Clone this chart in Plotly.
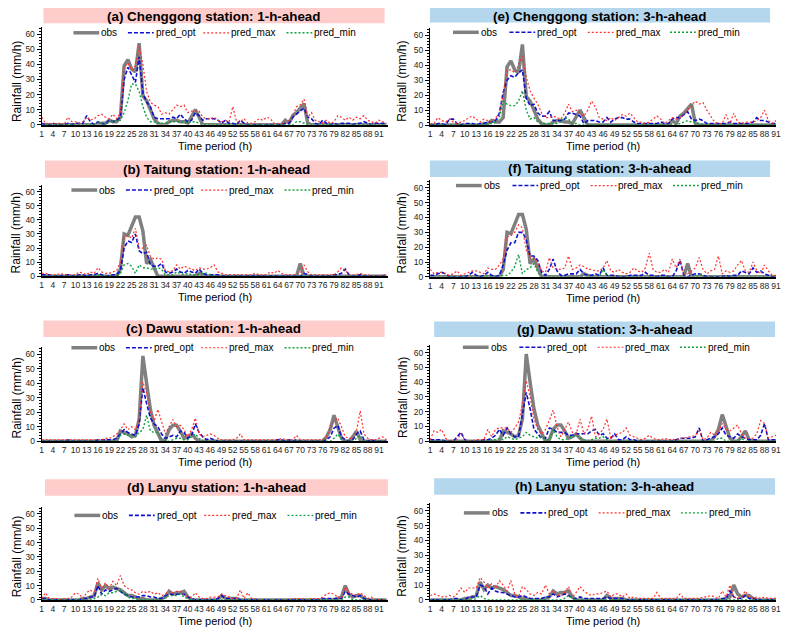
import plotly.graph_objects as go

# ---------------- data ----------------
TICK_LABELS = list(range(1, 92, 3))

# Chenggong
OBS_CHENGGONG = [0,0,0,0,0,0,0,0,0,0, 0,0,0,0,0,0,1,1,3,2, 2,5,39,43,37,35,54,19,16,10,
                 4,1,0,0,2,3,3,2,2,1, 6,10,5,0,0,0,0,0,0,0, 0,0,0,0,0,0,0,0,0,0,
                 0,0,0,0,0,3,1,6,8,11, 14,1,0,0,0,0,0,0,0,0, 0,0,0,0,0,0,0,0,0,0, 0,0,0]
OPT_A = [1,0,0,1,0,0,0,1,0,1, 1,1,6,2,0,2,1,0,3,2, 3,5,30,38,33,28,45,21,15,12,
         5,4,4,4,4,5,4,7,4,2, 3,8,6,3,4,4,4,3,1,3, 1,1,0,3,1,0,0,0,0,0,
         0,0,0,0,0,1,1,5,7,9, 11,5,4,1,0,3,1,0,1,0, 1,1,1,0,1,1,2,1,0,1, 1,1,1]
MAX_A = [5,1,1,0,1,1,0,5,2,2, 1,2,5,3,4,6,7,5,4,7, 4,8,38,41,36,39,52,40,22,15,
         13,12,7,8,7,10,13,12,13,8, 9,9,9,5,4,4,5,3,2,3, 2,12,2,2,4,1,1,2,4,3,
         5,4,1,1,1,1,3,6,12,13, 17,5,8,3,2,1,3,1,2,6, 5,3,5,3,5,4,6,3,2,1, 3,2,1]
MIN_A = [0,0,0,0,0,0,0,0,0,0, 0,0,0,0,0,2,1,0,2,2, 3,3,8,16,27,27,22,12,5,2,
         2,1,1,1,2,2,2,2,2,1, 2,2,1,0,0,0,0,0,0,0, 0,0,0,0,0,0,0,0,0,0,
         0,0,0,0,0,0,0,0,2,2, 1,0,0,0,0,0,0,0,0,0, 0,0,0,0,0,0,0,0,0,0, 0,0,0]
OPT_E = [0,0,1,1,0,4,4,1,0,1, 1,1,0,1,1,2,2,3,8,22, 30,33,32,35,37,18,13,14,8,6,
         6,9,3,3,3,4,8,8,7,6, 1,3,3,3,2,2,5,2,4,5, 5,4,4,2,1,1,1,1,1,1,
         2,1,1,4,5,5,7,9,4,3, 4,3,1,1,1,1,1,1,2,1, 1,1,1,1,2,5,3,3,2,1, 1]
MAX_E = [1,1,5,3,2,4,2,1,2,3, 5,6,4,2,4,3,2,5,7,20, 37,37,35,40,46,32,23,18,14,8,
         5,5,6,5,4,8,14,9,10,8, 6,10,16,12,5,4,3,5,3,5, 7,6,8,5,2,2,1,2,4,6,
         4,1,3,5,4,5,7,10,13,16, 14,15,10,6,2,1,1,7,1,8, 2,1,2,2,2,3,5,10,3,1, 3]
MIN_E = [0,0,0,0,0,0,0,0,0,0, 0,0,0,0,0,1,1,2,5,16, 14,13,13,16,23,10,4,5,2,1,
         1,1,1,1,2,5,4,1,1,0, 0,0,0,0,0,0,0,0,0,0, 0,0,0,0,0,0,0,0,0,0,
         0,0,0,0,0,1,2,3,2,2, 1,0,0,0,0,0,0,0,0,0, 0,0,0,0,0,0,0,0,0,0, 0]

# Taitung
OBS_TAITUNG = [0,0,0,0,0,0,0,0,0,0, 0,0,0,0,0,0,0,0,0,0, 0,5,30,29,35,42,42,32,9,12,
               6,0,0,0,0,0,0,0,0,0, 0,0,2,1,0,0,0,0,0,0, 0,0,0,0,0,0,0,0,0,0,
               0,0,0,0,0,0,0,0,0,9, 0,0,0,0,0,0,0,0,0,0, 0,0,0,0,0,0,0,0,0,0, 0,0,0]
OPT_B = [1,1,1,0,0,0,1,1,0,0, 1,1,0,1,1,2,1,0,0,1, 1,4,20,25,24,30,18,16,17,8,
         7,7,9,3,2,3,5,3,2,4, 3,2,5,2,1,1,1,1,0,0, 0,0,0,0,0,0,0,1,0,0,
         0,0,0,0,0,0,0,0,0,0, 2,1,0,0,0,0,0,0,1,1, 2,5,1,0,0,1,0,0,0,0, 0,0,0]
MAX_B = [2,2,1,1,1,2,1,1,1,1, 3,2,1,3,2,6,3,2,2,3, 4,10,27,29,27,34,20,20,22,14,
         12,13,12,4,3,4,8,5,7,6, 5,4,6,5,5,6,8,3,2,1, 1,1,1,1,1,1,1,2,1,1,
         1,3,2,4,2,1,1,1,1,2, 8,3,1,1,1,1,1,1,1,3, 6,4,1,1,1,2,1,1,0,0, 0,1,1]
MIN_B = [0,0,0,0,0,0,0,0,0,0, 0,0,0,0,0,1,0,0,0,0, 0,2,8,9,7,2,8,6,6,5,
         5,6,5,1,1,1,3,2,1,2, 1,1,1,2,2,1,0,0,0,0, 0,0,0,0,0,0,0,0,0,0,
         0,0,0,0,0,0,0,0,0,0, 0,0,0,0,0,0,0,0,0,0, 0,0,0,0,0,0,0,0,0,0, 0,0,0]
OPT_F = [1,1,2,3,2,0,0,0,0,0, 1,3,1,0,1,3,1,0,1,8, 18,23,23,30,30,25,14,14,11,3,
         1,5,12,4,1,1,2,2,2,5, 2,1,1,2,1,6,1,1,1,0, 0,0,1,1,1,1,3,1,1,0,
         1,1,0,0,4,11,1,0,1,2, 2,1,0,0,0,0,0,1,0,1, 1,4,3,2,6,3,4,2,1,0, 0]
MAX_F = [5,2,3,3,2,1,2,4,1,2, 3,4,4,3,2,6,5,5,8,12, 27,28,30,35,33,18,13,12,10,4,
         3,13,6,5,5,6,14,5,6,8, 7,5,5,4,4,6,11,4,3,5, 3,2,3,6,4,3,6,16,5,3,
         3,5,3,12,6,12,2,2,4,6, 13,5,2,4,5,14,2,4,3,4, 8,11,4,3,10,4,2,8,4,1, 1]
MIN_F = [0,0,0,0,0,0,0,0,0,0, 0,0,0,0,0,1,0,0,0,1, 1,3,7,15,2,5,6,9,3,0,
         0,0,0,0,0,0,0,0,0,0, 0,0,0,0,0,5,1,0,0,0, 0,0,0,0,0,0,0,0,0,0,
         0,0,0,0,0,0,0,0,0,0, 2,0,0,0,0,0,0,0,0,0, 0,0,0,0,0,0,0,0,0,0, 0]

# Dawu
OBS_DAWU = [0,0,0,0,0,0,0,0,0,0, 0,0,0,0,0,0,0,0,0,0, 0,7,6,5,3,4,15,59,40,22,
            11,5,0,1,8,11,11,7,2,3, 5,2,0,0,0,0,0,0,0,0, 0,0,0,0,0,0,0,0,0,0,
            0,0,0,0,0,0,0,0,0,0, 0,0,0,0,0,0,3,8,18,10, 2,0,0,3,7,1,0,0,0,0, 0,0,0]
OPT_C = [0,0,0,0,0,0,0,1,0,0, 0,0,0,0,0,1,1,1,1,1, 2,5,8,6,5,4,12,37,26,16,
         12,10,5,2,3,4,3,7,6,2, 4,12,6,3,1,2,1,0,0,0, 0,0,0,0,0,0,0,0,0,0,
         0,0,0,1,1,0,1,0,1,0, 0,0,0,0,0,0,1,3,9,11, 3,1,0,1,5,7,1,0,1,0, 0,0,0]
MAX_C = [1,1,1,1,1,1,1,1,1,1, 1,1,1,1,1,1,1,2,2,3, 5,8,12,8,10,8,15,41,33,20,
         14,22,14,5,10,15,10,11,8,3, 8,16,5,3,4,5,4,2,1,1, 1,1,2,5,1,1,1,1,1,1,
         1,1,1,1,2,1,1,1,4,1, 1,1,1,1,1,1,3,10,14,16, 10,3,2,2,7,21,5,2,1,1, 2,3,1]
MIN_C = [0,0,0,0,0,0,0,0,0,0, 0,0,0,0,0,0,0,0,0,0, 1,4,5,4,4,3,6,8,18,7,
         6,6,2,0,0,1,2,2,1,1, 3,5,2,0,0,0,0,0,0,0, 0,0,0,0,0,0,0,0,0,0,
         0,0,0,0,0,0,0,0,0,0, 0,0,0,0,0,0,0,0,2,5, 1,0,0,0,2,4,0,0,0,0, 0,0,0]
OPT_G = [1,1,1,1,0,0,0,3,6,1, 0,0,0,0,1,1,2,4,8,4, 9,5,3,3,18,33,22,8,5,2,
         2,9,8,6,6,6,4,4,5,5, 5,5,7,8,4,5,2,2,5,1, 1,3,1,1,0,0,0,0,0,0,
         0,0,0,0,1,2,2,2,2,3, 9,0,1,2,3,5,9,4,3,2, 5,3,2,1,1,1,4,12,1,1, 1]
MAX_G = [1,7,6,8,2,0,0,1,5,1, 0,0,1,1,1,8,3,8,9,9, 9,6,9,13,25,41,30,15,8,5,
         8,14,21,10,3,8,13,6,5,15, 5,8,17,3,5,8,15,2,4,5, 6,9,4,3,2,1,2,4,2,1,
         1,2,1,1,1,2,2,3,3,4, 7,1,2,6,4,6,12,8,7,9, 11,5,2,2,2,5,14,12,2,3, 4]
MIN_G = [0,0,0,0,0,0,0,0,0,0, 0,0,0,0,0,0,1,1,2,1, 3,2,1,2,3,6,4,3,2,3,
         1,1,8,3,1,1,2,3,4,2, 1,0,1,2,2,3,1,0,0,0, 0,0,0,0,0,0,0,0,0,0,
         0,0,0,0,0,0,0,0,0,0, 0,0,0,0,0,2,2,0,0,0, 0,2,0,0,0,0,0,0,0,0, 0]

# Lanyu
OBS_LANYU = [1,1,0,0,0,0,0,0,0,0, 0,1,1,2,3,12,7,10,8,9, 8,7,5,3,3,2,1,1,0,0,
             0,0,1,2,6,4,5,5,6,2, 0,0,0,0,0,0,0,0,3,1, 1,1,1,0,0,0,0,0,0,0,
             0,0,0,0,0,0,0,0,0,0, 0,0,0,0,0,0,0,0,0,1, 2,10,4,2,3,3,1,0,0,0, 0,0,0]
OPT_D = [1,1,0,0,0,0,0,0,0,0, 0,1,1,2,2,10,4,7,6,7, 8,6,4,3,2,2,2,3,3,2,
         2,1,1,3,4,4,4,4,4,2, 1,0,0,0,0,0,0,1,3,1, 1,1,1,0,0,0,0,0,0,0,
         0,0,0,0,0,0,0,0,0,0, 0,0,0,0,0,1,1,1,1,1, 1,6,4,3,2,3,1,0,0,0, 0,0,0]
MAX_D = [1,5,1,1,1,0,1,1,2,5, 4,1,5,7,4,15,7,12,8,13, 10,17,10,8,7,5,4,6,5,6,
         4,5,3,4,6,5,6,6,3,2, 2,5,2,1,1,2,2,2,4,3, 2,1,1,7,1,5,1,1,0,0,
         0,0,0,0,0,0,0,1,1,1, 1,0,1,1,1,2,4,5,4,2, 1,9,5,4,3,5,3,1,2,0, 0,0,0]
MIN_D = [0,0,0,0,0,0,0,0,0,0, 0,0,0,0,1,2,4,3,5,5, 6,6,5,2,1,1,0,0,0,0,
         0,0,0,2,3,3,3,4,2,1, 0,0,0,0,0,0,0,0,0,0, 0,0,0,0,0,0,0,0,0,0,
         0,0,0,0,0,0,0,0,0,0, 0,0,0,0,0,0,0,0,0,0, 0,2,2,0,0,0,0,0,0,0, 0,0,0]
OPT_H = [0,0,0,0,0,0,1,1,0,0, 2,2,2,10,9,4,8,6,5,5, 4,3,2,2,3,2,1,1,1,1,
         2,2,4,2,3,4,3,1,1,2, 1,1,1,1,1,1,2,1,1,1, 1,0,0,0,0,0,0,0,0,0,
         0,0,0,0,0,0,0,0,0,0, 0,0,0,0,0,0,1,1,6,2, 1,1,3,1,1,0,0,0,0,0, 0]
MAX_H = [3,4,3,2,2,3,2,4,8,5, 8,8,8,15,12,8,11,8,13,10, 6,13,4,2,9,7,4,3,5,4,
         10,4,6,3,3,5,9,2,5,9, 6,4,3,4,4,5,6,2,4,4, 2,4,1,2,1,1,1,1,1,5,
         1,1,1,1,1,4,1,1,1,1, 1,2,2,3,2,1,6,2,10,2, 1,2,6,2,1,2,1,2,1,1, 1]
MIN_H = [0,0,0,0,0,0,0,0,0,0, 0,0,1,3,1,0,0,0,0,0, 0,0,0,0,0,0,0,0,0,0,
         0,0,0,0,0,1,3,1,0,0, 0,0,0,0,0,0,0,0,0,0, 0,0,0,0,0,0,0,0,0,0,
         0,0,0,0,0,0,0,0,0,0, 0,0,0,0,0,0,0,0,0,0, 0,0,0,0,0,0,0,0,0,0, 0]

SERIES_NAMES = ["obs", "pred_opt", "pred_max", "pred_min"]

# ---------------- layout helpers ----------------
# the page body keeps its default 8px margin, so the figure is sized to fit
# and all page-pixel positions are converted with that offset
OFF = 8
W, H = 778, 624
FONT = "Arial"


def px_x(v):
    return (v - OFF) / W


def px_y(v):
    return 1 - (v - OFF) / H


# panel geometry (page pixels): column, y of value 0, px span of 0..60, title bar box, legend start/y
panels = [
    dict(title="(a) Chenggong station: 1-h-ahead", obs=OBS_CHENGGONG, opt=OPT_A, mx=MAX_A, mn=MIN_A,
         col=0, y0=125.7, s=91.4, bar=(41.7, 386, 5, 23.3), legx=72, legy=33),
    dict(title="(b) Taitung station: 1-h-ahead", obs=OBS_TAITUNG, opt=OPT_B, mx=MAX_B, mn=MIN_B,
         col=0, y0=278.3, s=85.0, bar=(43.3, 389.3, 161.7, 179), legx=70, legy=191.5),
    dict(title="(c) Dawu station: 1-h-ahead", obs=OBS_DAWU, opt=OPT_C, mx=MAX_C, mn=MIN_C,
         col=0, y0=444.7, s=87.4, bar=(41.7, 386, 323, 339.7), legx=70, legy=350.5),
    dict(title="(d) Lanyu station: 1-h-ahead", obs=OBS_LANYU, opt=OPT_D, mx=MAX_D, mn=MIN_D,
         col=0, y0=604.7, s=86.7, bar=(43.3, 389.3, 483, 499.7), legx=73, legy=519.5),
    dict(title="(e) Chenggong station: 3-h-ahead", obs=OBS_CHENGGONG[2:], opt=OPT_E, mx=MAX_E, mn=MIN_E,
         col=1, y0=126.0, s=90.3, bar=(431.7, 775, 5, 22.7), legx=455, legy=32.5),
    dict(title="(f) Taitung station: 3-h-ahead", obs=OBS_TAITUNG[2:], opt=OPT_F, mx=MAX_F, mn=MIN_F,
         col=1, y0=279.0, s=89.7, bar=(431.7, 775, 161.7, 178.3), legx=458, legy=187),
    dict(title="(g) Dawu station: 3-h-ahead", obs=OBS_DAWU[2:], opt=OPT_G, mx=MAX_G, mn=MIN_G,
         col=1, y0=444.7, s=89.3, bar=(436, 780, 324, 339.7), legx=465, legy=350),
    dict(title="(h) Lanyu station: 3-h-ahead", obs=OBS_LANYU[2:], opt=OPT_H, mx=MAX_H, mn=MIN_H,
         col=1, y0=604.7, s=90.0, bar=(436, 780, 482, 498.7), legx=466, legy=517),
]

COLS = [dict(x0=40, x1=389, rng=[1, 93.3], bar_color="#FFCCCC", ytitle_x=15,
             leg_off=[0, 55, 131, 215], leg_len=26),
        dict(x0=432, x1=781, rng=[1, 91.0], bar_color="#B4D7EE", ytitle_x=404,
             leg_off=[0, 57, 136, 219], leg_len=26)]

STYLES = [
    dict(color="#808080", width=3.5, dash="solid"),
    dict(color="#1010CC", width=1.6, dash="4px,2px"),
    dict(color="#FF3030", width=1.2, dash="2px,2px"),
    dict(color="#10A040", width=1.4, dash="2px,2px"),
]

fig = go.Figure()
shapes, annotations = [], []
layout = dict(width=W, height=H, margin=dict(l=0, r=0, t=0, b=0),
              paper_bgcolor="white", plot_bgcolor="white", showlegend=False,
              font=dict(family=FONT, size=10, color="#000000"))

for i, p in enumerate(panels, start=1):
    c = COLS[p["col"]]
    sfx = "" if i == 1 else str(i)
    n = len(p["obs"])
    xs = list(range(1, n + 1))
    for name, vals, st in zip(SERIES_NAMES, [p["obs"], p["opt"], p["mx"], p["mn"]], STYLES):
        fig.add_trace(go.Scatter(
            x=xs, y=vals, mode="lines", name=name,
            line=dict(color=st["color"], width=st["width"], dash=st["dash"]),
            xaxis="x" + sfx, yaxis="y" + sfx, showlegend=False,
            hoverinfo="skip"))

    top_px = p["y0"] - p["s"] * 65 / 60
    ydom = [px_y(p["y0"]), px_y(top_px)]
    xdom = [px_x(c["x0"]), px_x(c["x1"])]
    layout["xaxis" + sfx] = dict(
        domain=xdom, anchor="y" + sfx, range=c["rng"], tickmode="array",
        tickvals=TICK_LABELS, ticktext=[str(t) for t in TICK_LABELS], tickangle=0,
        showline=True, linecolor="#000000", linewidth=1.8, ticks="",
        showgrid=False, zeroline=False,
        tickfont=dict(size=8.5, color="#262626", family=FONT))
    layout["yaxis" + sfx] = dict(
        domain=ydom, anchor="x" + sfx, range=[0, 65], tickmode="array",
        tickvals=[0, 10, 20, 30, 40, 50, 60],
        showline=True, linecolor="#000000", linewidth=1.3, ticks="outside",
        ticklen=4, tickcolor="#000000", tickwidth=1,
        minor=dict(ticks="outside", ticklen=2, dtick=2, tickcolor="#000000"),
        showgrid=False, zeroline=False,
        tickfont=dict(size=8.5, color="#262626", family=FONT))

    # legend row drawn inside the top of the plot area
    for name, st, off in zip(SERIES_NAMES, STYLES, c["leg_off"]):
        sx0 = p["legx"] + off
        sx1 = sx0 + c["leg_len"]
        shapes.append(dict(type="line", xref="paper", yref="paper",
                           x0=px_x(sx0), x1=px_x(sx1), y0=px_y(p["legy"]), y1=px_y(p["legy"]),
                           line=dict(color=st["color"], width=st["width"], dash=st["dash"])))
        annotations.append(dict(text=name, xref="paper", yref="paper",
                                x=px_x(sx1 + 1), y=px_y(p["legy"]), xanchor="left", yanchor="middle",
                                showarrow=False, borderpad=0,
                                font=dict(size=10, family=FONT, color="#000000")))

    bx0, bx1, by0, by1 = p["bar"]
    shapes.append(dict(type="rect", xref="paper", yref="paper",
                       x0=px_x(bx0), x1=px_x(bx1), y0=px_y(by1), y1=min(1.0, px_y(by0)),
                       fillcolor=c["bar_color"], line=dict(width=0), layer="below"))
    title_cy = max((by0 + by1) / 2, OFF + 8.5)
    annotations.append(dict(text="<b>" + p["title"] + "</b>", xref="paper", yref="paper",
                            x=px_x((bx0 + bx1) / 2), y=px_y(title_cy),
                            xanchor="center", yanchor="middle", showarrow=False, borderpad=0,
                            font=dict(size=13.4, family=FONT, color="#000000")))
    annotations.append(dict(text="Rainfall (mm/h)", xref="paper", yref="paper",
                            x=px_x(c["ytitle_x"]), y=px_y(p["y0"] - 44),
                            xanchor="center", yanchor="middle", showarrow=False,
                            textangle=-90, font=dict(size=12, family=FONT, color="#000000")))
    annotations.append(dict(text="Time period (h)", xref="paper", yref="paper",
                            x=(xdom[0] + xdom[1]) / 2, y=px_y(p["y0"] + 21),
                            xanchor="center", yanchor="middle", showarrow=False,
                            font=dict(size=11, family=FONT, color="#000000")))

layout["shapes"] = shapes
layout["annotations"] = annotations
fig.update_layout(**layout)
fig.write_html("out.html")
